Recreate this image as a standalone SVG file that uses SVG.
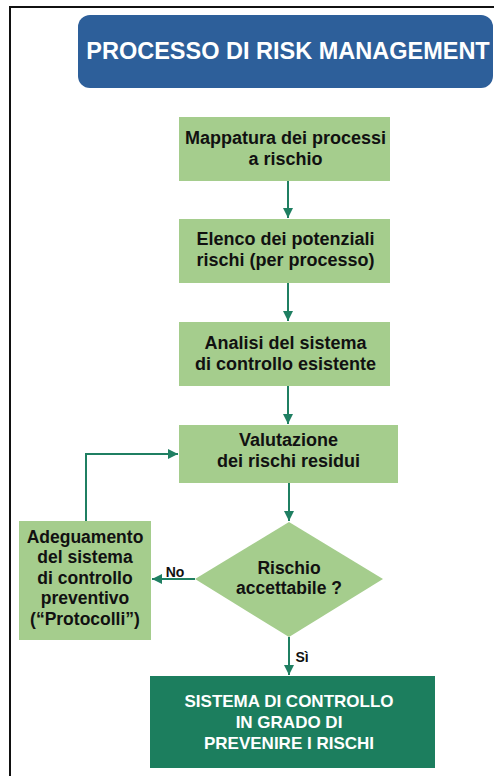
<svg xmlns="http://www.w3.org/2000/svg" width="494" height="776" viewBox="0 0 494 776">
<defs>
<marker id="ah" markerUnits="userSpaceOnUse" markerWidth="11" markerHeight="11" refX="10" refY="5" orient="auto">
<path d="M0,0 L10,5 L0,10 z" fill="#1F7F62"/>
</marker>
<style>
.frame{stroke:#111;stroke-width:2;fill:none}
.box{fill:#A5CD8D}
.t{font-family:"Liberation Sans",Arial,sans-serif;font-weight:bold;font-size:18px;fill:#111;text-anchor:middle}
.w{fill:#fff}
.c{stroke:#1F7F62;stroke-width:2;fill:none;marker-end:url(#ah)}
</style>
</defs>
<path class="frame" d="M10,776 V7 H494"/>
<g id="title">
<rect x="78" y="15" width="415" height="73" rx="12" fill="#2D5F9A"/>
<text class="t w" x="288" y="59" style="font-size:23.5px">PROCESSO DI RISK MANAGEMENT</text>
</g>
<g id="n1">
<rect class="box" x="179" y="117" width="211" height="64"/>
<text class="t" x="285.5" y="144">Mappatura dei processi</text>
<text class="t" x="285.5" y="165">a rischio</text>
</g>
<g id="n2">
<rect class="box" x="179" y="219" width="211" height="64"/>
<text class="t" x="285.5" y="245">Elenco dei potenziali</text>
<text class="t" x="285.5" y="266">rischi (per processo)</text>
</g>
<g id="n3">
<rect class="box" x="179" y="322" width="211" height="64"/>
<text class="t" x="285.5" y="349">Analisi del sistema</text>
<text class="t" x="285.5" y="370">di controllo esistente</text>
</g>
<g id="n4">
<rect class="box" x="179" y="425" width="219" height="58"/>
<text class="t" x="288.5" y="446">Valutazione</text>
<text class="t" x="288.5" y="467">dei rischi residui</text>
</g>
<g id="n5">
<polygon class="box" points="289,522 383,579 289,637 195,579"/>
<text class="t" x="289" y="574" style="font-size:17.5px">Rischio</text>
<text class="t" x="289" y="594" style="font-size:17.5px">accettabile ?</text>
</g>
<g id="n6">
<rect class="box" x="19" y="521" width="132" height="119"/>
<text class="t" x="85" y="543" style="font-size:17.5px">Adeguamento</text>
<text class="t" x="85" y="563" style="font-size:17.5px">del sistema</text>
<text class="t" x="85" y="584" style="font-size:17.5px">di controllo</text>
<text class="t" x="85" y="604" style="font-size:17.5px">preventivo</text>
<text class="t" x="85" y="625" style="font-size:17.5px">(“Protocolli”)</text>
</g>
<g id="n7">
<rect x="150" y="676" width="285" height="92" fill="#1C7E5E"/>
<text class="t w" x="289" y="707" style="font-size:17px">SISTEMA DI CONTROLLO</text>
<text class="t w" x="289" y="728" style="font-size:17px">IN GRADO DI</text>
<text class="t w" x="289" y="749" style="font-size:17px">PREVENIRE I RISCHI</text>
</g>
<g id="connectors">
<path class="c" d="M288,181 V218"/>
<path class="c" d="M288,283 V321"/>
<path class="c" d="M288,386 V424"/>
<path class="c" d="M289,483 V521"/>
<path class="c" d="M289,637 V675"/>
<path class="c" d="M86,521 V454 H178"/>
<path class="c" d="M195,579 H152"/>
<text class="t" x="175" y="577" style="font-size:14px">No</text>
<text class="t" x="302" y="662" style="font-size:14px">Sì</text>
</g>
</svg>
